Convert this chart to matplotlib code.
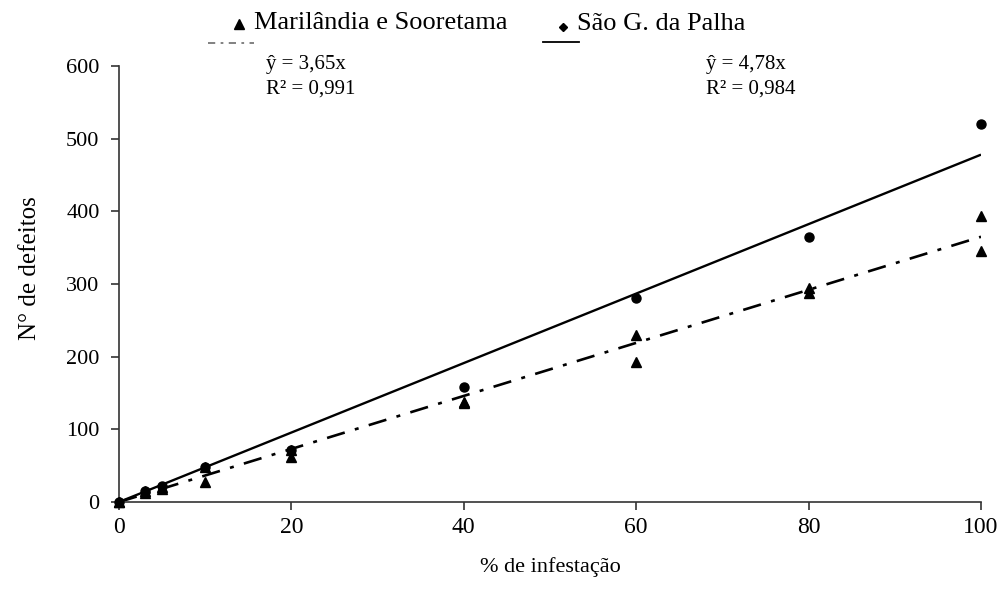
import numpy as np
import matplotlib
matplotlib.use('Agg')
import matplotlib.pyplot as plt
from matplotlib.lines import Line2D

plt.rcParams['font.family'] = ['Liberation Serif', 'DejaVu Serif']

# % de infestação
infest = [0, 3, 5, 10, 20, 40, 60, 80, 100]
# São G. da Palha (circles)
palha = [0, 15, 22, 48, 72, 158, 281, 364, 520]
# Marilândia e Sooretama (triangles, two sets)
marilandia = [0, 12, 18, 28, 62, 138, 193, 287, 346]
sooretama = [0, 15, 20, 48, 72, 136, 230, 295, 393]

slope_mar = 3.65
slope_palha = 4.78
eq_mar = ['ŷ = 3,65x', 'R² = 0,991']
eq_palha = ['ŷ = 4,78x', 'R² = 0,984']

fig = plt.figure(figsize=(10.06, 6.10), dpi=100)
ax = fig.add_axes([119 / 1006, 1 - 502 / 610, 862 / 1006, 436 / 610])

xfit = np.array([0, 100])
ax.plot(xfit, slope_palha * xfit, color='black', lw=1.7, solid_capstyle='butt')
ax.plot(xfit, slope_mar * xfit, color='black', lw=1.9,
        dashes=(7, 4, 1.5, 4))

ax.plot(infest, palha, 'o', color='black', ms=6.5, clip_on=False, zorder=3)
ax.plot(infest, marilandia, '^', color='black', ms=7.5, clip_on=False, zorder=3)
ax.plot(infest, sooretama, '^', color='black', ms=7.5, clip_on=False, zorder=3)

ax.set_xlim(0, 100)
ax.set_ylim(0, 600)
ax.set_xticks([0, 20, 40, 60, 80, 100])
ax.set_yticks([0, 100, 200, 300, 400, 500, 600])
for s in ['top', 'right']:
    ax.spines[s].set_visible(False)
for s in ['left', 'bottom']:
    ax.spines[s].set_linewidth(1.2)
    ax.spines[s].set_color('#333333')
ax.tick_params(axis='both', direction='out', length=6, width=1.2,
               color='#333333', labelsize=16)
ax.tick_params(axis='y', pad=8)
ax.tick_params(axis='x', pad=5, labelsize=17)

fig.text(30 / 1006, 1 - 268 / 610, 'N° de defeitos', rotation=90,
         ha='center', va='center', fontsize=18)
fig.text(550 / 1006, 1 - 567 / 610, '% de infestação',
         ha='center', va='center', fontsize=16)

# manual legend / equations
def fx(px):
    return px / 1006

def fy(py):
    return 1 - py / 610

fig.add_artist(Line2D([fx(239)], [fy(24)], marker='^', color='black', ms=6.5,
                      linestyle='none'))
fig.text(fx(254), fy(23), 'Marilândia e Sooretama', fontsize=19, va='center')
fig.add_artist(Line2D([fx(208), fx(254)], [fy(43), fy(43)], color='#777777',
                      lw=1.3, dashes=(4, 3, 1.5, 3)))
fig.text(fx(266), fy(64), eq_mar[0], fontsize=15, va='center')
fig.text(fx(266), fy(89), eq_mar[1], fontsize=15, va='center')

fig.add_artist(Line2D([fx(563)], [fy(27)], marker='D', color='black', ms=4.5,
                      linestyle='none'))
fig.text(fx(577), fy(24), 'São G. da Palha', fontsize=19, va='center')
fig.add_artist(Line2D([fx(543), fx(579)], [fy(42), fy(42)], color='black',
                      lw=1.3))
fig.text(fx(706), fy(64), eq_palha[0], fontsize=15, va='center')
fig.text(fx(706), fy(89), eq_palha[1], fontsize=15, va='center')

fig.savefig('out.png', dpi=100)
